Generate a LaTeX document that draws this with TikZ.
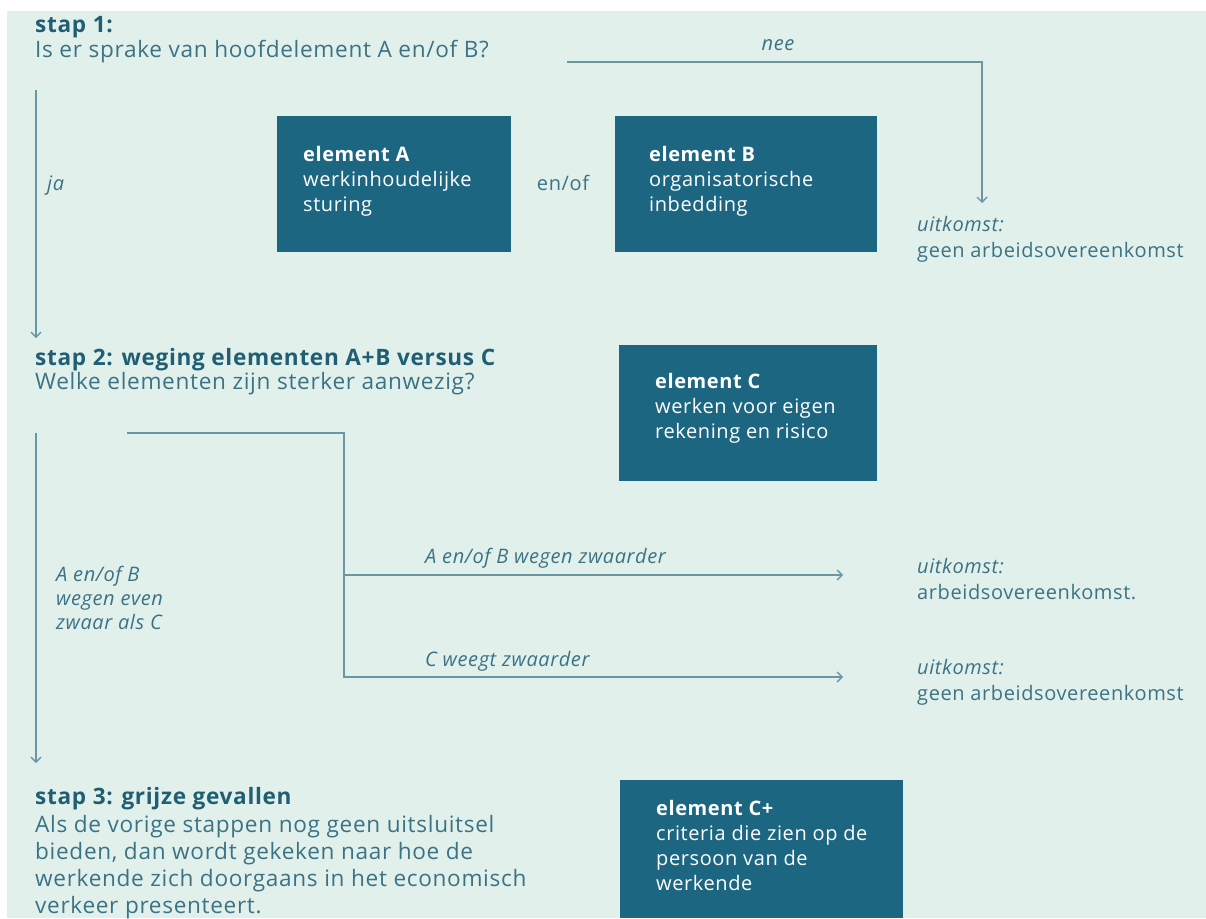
\documentclass[tikz,border=0pt]{standalone}
\usepackage{fontspec}
\setmainfont{Open Sans}[LetterSpace=3]
\usetikzlibrary{arrows.meta,calc}
\definecolor{bgc}{HTML}{E2F0EC}
\definecolor{boxc}{HTML}{1C6682}
\definecolor{headc}{HTML}{1F5E73}
\definecolor{bodyc}{HTML}{3B7385}
\definecolor{linec}{HTML}{6A97A5}
\tikzset{
  steptxt/.style={inner sep=0pt, text=bodyc, font=\fontsize{22.6}{27}\selectfont, align=left},
  txt/.style={inner sep=0pt, text=bodyc, font=\fontsize{20}{26}\selectfont, align=left},
  lbl/.style={inner sep=0pt, text=bodyc, font=\fontsize{20}{24}\selectfont\itshape, align=left},
  elbox/.style={fill=boxc, inner sep=0pt, anchor=north west},
  boxtxt/.style={inner sep=0pt, text=white, font=\fontsize{20}{25}\selectfont, align=left, anchor=west},
  ln/.style={draw=linec, line width=1.6pt},
  arr/.style={ln, -{Straight Barb[length=5pt,width=10pt,line width=1.4pt]}}
}
\begin{document}
\begin{tikzpicture}[x=1pt,y=-1pt]
\useasboundingbox (0,0) rectangle (1206,918);
\fill[white] (0,0) rectangle (1206,918);
\fill[bgc] (7,11) rectangle (1206,918);

% step 1
\node[steptxt, anchor=base west, text=headc] (s1h) at (35,32) {\bfseries stap 1:};
\node[steptxt, anchor=base west] (s1q) at (35,57) {Is er sprake van hoofdelement A en/of B?};

\node[elbox, minimum width=234pt, minimum height=136pt] (ea) at (277,116) {};
\node[boxtxt] (eat) at ([xshift=26pt,yshift=3pt]ea.west) {\textbf{element A}\\werkinhoudelijke\\sturing};
\node[txt] (enof) at (563,183) {en/of};
\node[elbox, minimum width=262pt, minimum height=136pt] (eb) at (615,116) {};
\node[boxtxt] (ebt) at ([xshift=34pt,yshift=3pt]eb.west) {\textbf{element B}\\organisatorische\\inbedding};

\node[txt, anchor=north west] (u1) at (917,216) {\textit{uitkomst:}\\geen arbeidsovereenkomst};

\coordinate (n0) at (567,62);
\coordinate (n1) at (982,62);
\coordinate (n2) at (982,203);
\draw[arr] (n0) -- (n1) -- (n2);
\node[lbl] (nee) at (778,45) {nee};

\coordinate (j0) at (36,90);
\coordinate (j1) at (36,338);
\draw[arr] (j0) -- (j1);
\node[lbl, anchor=west] (ja) at (47,186) {ja};

% step 2
\node[steptxt, anchor=base west, text=headc] (s2h) at (35,365) {\bfseries stap 2: weging elementen A+B versus C};
\node[steptxt, anchor=base west] (s2q) at (35,389) {Welke elementen zijn sterker aanwezig?};

\node[elbox, minimum width=258pt, minimum height=136pt] (ec) at (619,345) {};
\node[boxtxt] (ect) at ([xshift=36pt,yshift=5pt]ec.west) {\textbf{element C}\\werken voor eigen\\rekening en risico};

\coordinate (b0) at (127,433);
\coordinate (b1) at (344,433);
\coordinate (b2) at (344,677);
\coordinate (b3) at (843,677);
\coordinate (b4) at (344,575);
\coordinate (b5) at (843,575);
\draw[arr] (b0) -- (b1) -- (b2) -- (b3);
\draw[arr] (b4) -- (b5);
\node[lbl, anchor=west] (l1) at (425,558) {A en/of B wegen zwaarder};
\node[lbl, anchor=west] (l2) at (425,661) {C weegt zwaarder};

\coordinate (c0) at (36,433);
\coordinate (c1) at (36,763);
\draw[arr] (c0) -- (c1);
\node[lbl, anchor=west] (l3) at (56,598) {A en/of B\\wegen even\\zwaar als C};

\node[txt, anchor=north west] (u2) at (917,558) {\textit{uitkomst:}\\arbeidsovereenkomst.};
\node[txt, anchor=north west] (u3) at (917,659) {\textit{uitkomst:}\\geen arbeidsovereenkomst};

% step 3
\node[steptxt, anchor=base west, text=headc] (s3h) at (35,804) {\bfseries stap 3: grijze gevallen};
\node[steptxt, anchor=north west] (s3q) at ([yshift=-11pt]s3h.base west)
  {Als de vorige stappen nog geen uitsluitsel\\bieden, dan wordt gekeken naar hoe de\\werkende zich doorgaans in het economisch\\verkeer presenteert.};

\node[elbox, minimum width=283pt, minimum height=138pt] (ecp) at (620,780) {};
\node[boxtxt] (ecpt) at ([xshift=36pt,yshift=4pt]ecp.west) {\textbf{element C+}\\criteria die zien op de\\persoon van de\\werkende};
\end{tikzpicture}
\end{document}
